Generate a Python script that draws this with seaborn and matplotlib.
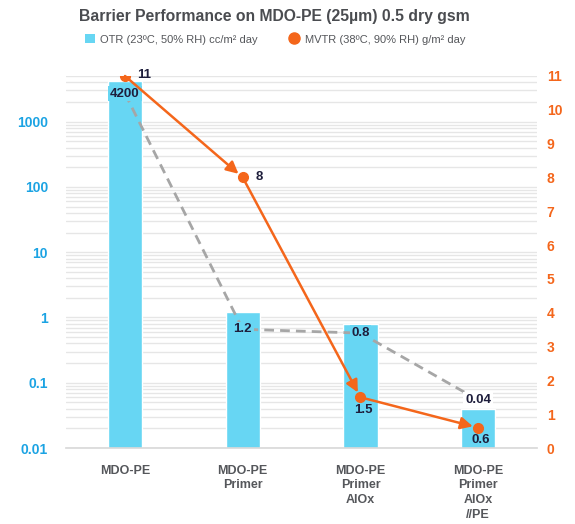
import numpy as np
import pandas as pd
import seaborn as sns
from matplotlib import pyplot as plt
from matplotlib.patches import Patch
from matplotlib.lines import Line2D

categories = ['MDO-PE', 'MDO-PE\nPrimer', 'MDO-PE\nPrimer\nAlOx', 'MDO-PE\nPrimer\nAlOx\n//PE']
otr = [4200, 1.2, 0.8, 0.04]
otr_labels = ['4200', '1.2', '0.8', '0.04']
mvtr = [11, 8, 1.5, 0.6]
mvtr_labels = ['11', '8', '1.5', '0.6']
left_ticks = [0.01, 0.1, 1, 10, 100, 1000]
left_tick_labels = ['0.01', '0.1', '1', '10', '100', '1000']
right_ticks = list(range(0, 12))

title = 'Barrier Performance on MDO-PE (25µm) 0.5 dry gsm'
otr_name = 'OTR (23ºC, 50% RH) cc/m² day'
mvtr_name = 'MVTR (38ºC, 90% RH) g/m² day'

# styling
bar_color = '#67D6F3'
orange = '#F4661B'
blue_txt = '#1BA3E3'
grey_txt = '#55575B'
navy = '#1E1E3C'
# where the OTR value labels sit relative to the bar top (factor on log axis)
otr_label_shift = [0.64, 0.55, 0.72, 1.36]
otr_label_bg = [bar_color, bar_color, bar_color, 'white']
# offsets (points) of the MVTR labels from their markers
mvtr_label_offset = [(14, 1), (12, 0), (2, -9), (2, -9)]

sns.set_theme(style='white')
plt.rcParams['font.family'] = ['Liberation Sans', 'DejaVu Sans']

fig = plt.figure(figsize=(5.75, 5.24), dpi=100)
ax = fig.add_axes([0.115, 0.145, 0.819, 0.71])
ax.set_yscale('log')

df = pd.DataFrame({'cat': categories, 'otr': otr})
sns.barplot(data=df, x='cat', y='otr', color=bar_color, saturation=1, width=0.29, ax=ax)
xs = np.arange(len(categories))
ax.set_xticks(xs, categories, linespacing=1.3, fontweight='bold')
ax.set_xlim(-0.5, 3.5)
ax.set_ylim(0.01, 5000)
ax.set_axisbelow(True)
ax.grid(which='both', axis='y', color='#E6E6E6', lw=1)
ax.set_yticks(left_ticks)
ax.set_yticklabels(left_tick_labels, fontweight='bold')
ax.yaxis.set_minor_formatter(plt.NullFormatter())
ax.tick_params(axis='y', which='both', length=0, pad=13, labelcolor=blue_txt, labelsize=10)
ax.tick_params(axis='x', length=0, pad=12, labelcolor=grey_txt, labelsize=9)
ax.set_xlabel('')
ax.set_ylabel('')
for s in ['left', 'right', 'top']:
    ax.spines[s].set_visible(False)
ax.spines['bottom'].set_color('#D9D9D9')

# dashed connector through the OTR labels
ys = [v * f for v, f in zip(otr, otr_label_shift)]
ax.plot(xs, ys, ls=(0, (3.5, 2.2)), color='#A6A6A6', lw=2, zorder=3)
for x, y, lab, bg in zip(xs, ys, otr_labels, otr_label_bg):
    ax.text(x, y, lab, ha='center', va='center', fontsize=9.5, fontweight='bold', color=navy,
            bbox=dict(facecolor=bg, edgecolor='none', pad=1.2), zorder=4)

# MVTR on the right axis
ax2 = ax.twinx()
ax2.set_ylim(0, 11)
ax2.set_yticks(right_ticks)
ax2.set_yticklabels([str(t) for t in right_ticks], fontweight='bold')
ax2.tick_params(axis='y', length=0, pad=7, labelcolor=orange, labelsize=10)
for s in ax2.spines.values():
    s.set_visible(False)
ax2.grid(False)
for i in range(len(mvtr) - 1):
    ax2.annotate('', xy=(xs[i + 1], mvtr[i + 1]), xytext=(xs[i], mvtr[i]),
                 arrowprops=dict(arrowstyle='-|>,head_length=0.6,head_width=0.3', color=orange, lw=1.8,
                                 shrinkA=0, shrinkB=4))
ax2.plot(xs, mvtr, ls='none', marker='o', ms=7, color=orange, zorder=5)
for x, y, lab, off in zip(xs, mvtr, mvtr_labels, mvtr_label_offset):
    ax2.annotate(lab, (x, y), xytext=off, textcoords='offset points', ha='center', va='center',
                 fontsize=9.5, fontweight='bold', color=navy)

fig.text(0.478, 0.968, title, ha='center', va='center', fontsize=11.3, fontweight='bold', color='#4A4C50')
handles = [Patch(facecolor=bar_color, edgecolor='none', label=otr_name),
           Line2D([], [], ls='none', marker='o', ms=8, color=orange, label=mvtr_name)]
fig.legend(handles=handles, loc='center', bbox_to_anchor=(0.478, 0.925), ncol=2, frameon=False,
           fontsize=8, labelcolor=grey_txt, handlelength=0.9, handletextpad=0.5, columnspacing=2.8,
           handleheight=0.9)

fig.savefig('out.png', dpi=100)
